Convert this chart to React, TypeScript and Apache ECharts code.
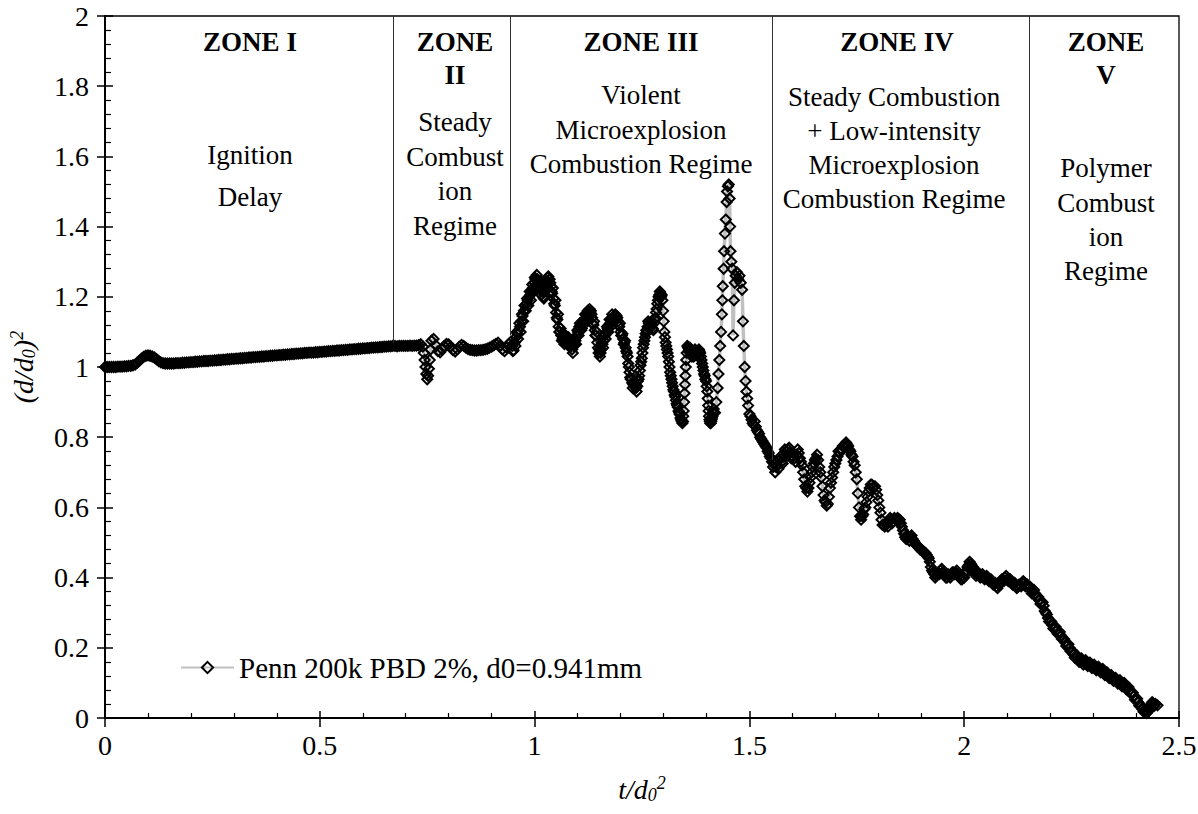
import React, { useEffect, useRef } from "react";
import * as echarts from "echarts";

const SERIF = "'Liberation Serif', 'Times New Roman', serif";
const LEGEND_NAME = "Penn 200k PBD 2%, d0=0.941mm";

// Zone I: ignition delay
const zone1Points: [number, number][] = [
  [0.0, 1.0], [0.005, 1.0], [0.01, 1.0], [0.015, 1.0], [0.02, 1.0], [0.025, 1.0], [0.03, 1.001], [0.035, 1.001],
  [0.04, 1.001], [0.045, 1.002], [0.05, 1.002], [0.055, 1.003], [0.06, 1.003], [0.065, 1.005], [0.07, 1.007],
  [0.075, 1.012], [0.08, 1.018], [0.085, 1.024], [0.09, 1.029], [0.095, 1.032], [0.1, 1.033], [0.105, 1.032],
  [0.11, 1.03], [0.115, 1.027], [0.12, 1.022], [0.125, 1.017], [0.13, 1.013], [0.135, 1.011], [0.14, 1.01],
  [0.145, 1.01], [0.15, 1.01], [0.155, 1.01], [0.16, 1.01], [0.165, 1.011], [0.17, 1.011], [0.175, 1.011],
  [0.18, 1.012], [0.185, 1.012], [0.19, 1.013], [0.195, 1.013], [0.2, 1.014], [0.205, 1.014], [0.21, 1.015],
  [0.215, 1.015], [0.22, 1.016], [0.225, 1.016], [0.23, 1.017], [0.235, 1.017], [0.24, 1.017], [0.245, 1.018],
  [0.25, 1.018], [0.255, 1.019], [0.26, 1.019], [0.265, 1.02], [0.27, 1.02], [0.275, 1.021], [0.28, 1.021],
  [0.285, 1.022], [0.29, 1.022], [0.295, 1.023], [0.3, 1.023], [0.305, 1.024], [0.31, 1.024], [0.315, 1.025],
  [0.32, 1.025], [0.325, 1.026], [0.33, 1.026], [0.335, 1.027], [0.34, 1.027], [0.345, 1.028], [0.35, 1.028],
  [0.355, 1.029], [0.36, 1.029], [0.365, 1.03], [0.37, 1.03], [0.375, 1.031], [0.38, 1.031], [0.385, 1.032],
  [0.39, 1.032], [0.395, 1.033], [0.4, 1.033], [0.405, 1.034], [0.41, 1.034], [0.415, 1.035], [0.42, 1.035],
  [0.425, 1.036], [0.43, 1.036], [0.435, 1.037], [0.44, 1.037], [0.445, 1.038], [0.45, 1.038], [0.455, 1.039],
  [0.46, 1.039], [0.465, 1.04], [0.47, 1.04], [0.475, 1.041], [0.48, 1.041], [0.485, 1.041], [0.49, 1.042],
  [0.495, 1.042], [0.5, 1.043], [0.505, 1.043], [0.51, 1.044], [0.515, 1.044], [0.52, 1.045], [0.525, 1.045],
  [0.53, 1.046], [0.535, 1.046], [0.54, 1.047], [0.545, 1.047], [0.55, 1.048], [0.555, 1.048], [0.56, 1.049],
  [0.565, 1.049], [0.57, 1.05], [0.575, 1.05], [0.58, 1.051], [0.585, 1.051], [0.59, 1.052], [0.595, 1.052],
  [0.6, 1.053], [0.605, 1.053], [0.61, 1.054], [0.615, 1.054], [0.62, 1.055], [0.625, 1.055], [0.63, 1.056],
  [0.635, 1.056], [0.64, 1.057], [0.645, 1.057], [0.65, 1.058], [0.655, 1.058], [0.66, 1.059], [0.665, 1.059],
  [0.67, 1.06],
];

// Zone II: steady combustion
const zone2Points: [number, number][] = [
  [0.675, 1.06], [0.68, 1.059], [0.685, 1.06], [0.69, 1.06], [0.695, 1.06], [0.7, 1.06], [0.705, 1.06],
  [0.71, 1.061], [0.715, 1.06], [0.72, 1.061], [0.725, 1.061], [0.73, 1.062], [0.735, 1.065], [0.74, 1.058],
  [0.742, 1.04], [0.744, 1.02], [0.746, 1.0], [0.748, 0.98], [0.75, 0.965], [0.752, 0.975], [0.754, 0.995],
  [0.756, 1.02], [0.758, 1.05], [0.76, 1.075], [0.765, 1.08], [0.77, 1.062], [0.775, 1.045], [0.78, 1.042],
  [0.785, 1.05], [0.79, 1.06], [0.795, 1.066], [0.8, 1.064], [0.805, 1.058], [0.81, 1.048], [0.815, 1.044],
  [0.82, 1.05], [0.825, 1.058], [0.83, 1.063], [0.835, 1.06], [0.84, 1.055], [0.845, 1.051], [0.85, 1.049],
  [0.855, 1.048], [0.86, 1.047], [0.865, 1.047], [0.87, 1.048], [0.875, 1.048], [0.88, 1.049], [0.885, 1.05],
  [0.89, 1.052], [0.895, 1.055], [0.9, 1.058], [0.905, 1.062], [0.91, 1.066], [0.915, 1.069], [0.92, 1.06],
  [0.925, 1.05], [0.93, 1.045], [0.935, 1.055], [0.94, 1.066], [0.945, 1.072],
];

// Zone III: violent microexplosion
const zone3Points: [number, number][] = [
  [0.948, 1.06], [0.951, 1.048], [0.954, 1.07], [0.957, 1.085], [0.96, 1.095], [0.963, 1.105], [0.966, 1.115],
  [0.969, 1.13], [0.972, 1.145], [0.975, 1.16], [0.978, 1.175], [0.981, 1.18], [0.984, 1.19], [0.987, 1.2],
  [0.99, 1.205], [0.993, 1.215], [0.996, 1.225], [0.999, 1.24], [1.002, 1.25], [1.005, 1.262], [1.008, 1.245],
  [1.011, 1.235], [1.014, 1.225], [1.017, 1.215], [1.02, 1.2], [1.023, 1.215], [1.026, 1.23], [1.029, 1.245],
  [1.032, 1.258], [1.035, 1.25], [1.038, 1.23], [1.041, 1.21], [1.044, 1.195], [1.047, 1.175], [1.05, 1.155],
  [1.053, 1.135], [1.056, 1.115], [1.059, 1.1], [1.062, 1.09], [1.065, 1.08], [1.068, 1.085], [1.071, 1.075],
  [1.074, 1.08], [1.077, 1.07], [1.08, 1.075], [1.083, 1.065], [1.086, 1.06], [1.089, 1.04], [1.092, 1.065],
  [1.095, 1.075], [1.098, 1.09], [1.101, 1.1], [1.104, 1.115], [1.107, 1.12], [1.11, 1.11], [1.113, 1.125],
  [1.116, 1.135], [1.119, 1.14], [1.122, 1.15], [1.125, 1.155], [1.128, 1.165], [1.131, 1.16], [1.134, 1.14],
  [1.137, 1.12], [1.14, 1.105], [1.143, 1.09], [1.146, 1.07], [1.149, 1.04], [1.152, 1.03], [1.155, 1.05],
  [1.158, 1.065], [1.161, 1.075], [1.164, 1.09], [1.167, 1.1], [1.17, 1.11], [1.173, 1.12], [1.176, 1.125],
  [1.179, 1.135], [1.182, 1.14], [1.185, 1.145], [1.188, 1.15], [1.191, 1.145], [1.194, 1.13], [1.197, 1.115],
  [1.2, 1.1], [1.203, 1.09], [1.206, 1.08], [1.209, 1.07], [1.212, 1.055], [1.215, 1.04], [1.218, 1.01],
  [1.221, 0.985], [1.224, 0.965], [1.227, 0.955], [1.23, 0.95], [1.233, 0.945], [1.236, 0.94], [1.239, 0.945],
  [1.242, 0.965], [1.245, 0.99], [1.248, 1.015], [1.251, 1.04], [1.254, 1.065], [1.257, 1.085], [1.26, 1.105],
  [1.263, 1.115], [1.266, 1.125], [1.269, 1.12], [1.272, 1.13], [1.275, 1.11], [1.278, 1.125], [1.281, 1.14],
  [1.284, 1.165], [1.287, 1.19], [1.29, 1.205], [1.293, 1.21], [1.296, 1.205], [1.299, 1.16], [1.302, 1.1],
  [1.305, 1.07], [1.308, 1.05], [1.311, 1.03], [1.314, 1.0], [1.317, 0.975], [1.32, 0.955], [1.323, 0.935],
  [1.326, 0.92], [1.329, 0.905], [1.332, 0.89], [1.335, 0.875], [1.338, 0.865], [1.341, 0.85], [1.344, 0.84],
  [1.346, 0.86], [1.348, 0.9], [1.35, 0.95], [1.352, 1.0], [1.354, 1.04], [1.357, 1.055], [1.36, 1.05],
  [1.363, 1.04], [1.366, 1.03], [1.369, 1.045], [1.372, 1.04], [1.375, 1.035], [1.378, 1.045], [1.381, 1.04],
  [1.384, 1.045], [1.387, 1.03], [1.39, 1.01], [1.393, 0.99], [1.396, 0.975], [1.399, 0.96], [1.402, 0.93],
  [1.404, 0.89], [1.406, 0.86], [1.408, 0.845], [1.41, 0.84], [1.412, 0.85], [1.414, 0.86], [1.417, 0.88],
  [1.42, 0.87], [1.423, 0.9], [1.426, 0.94], [1.428, 0.98], [1.43, 1.02], [1.432, 1.06], [1.434, 1.1],
  [1.436, 1.15], [1.437, 1.19], [1.438, 1.23], [1.44, 1.28], [1.441, 1.33], [1.443, 1.38], [1.445, 1.42],
  [1.447, 1.47], [1.448, 1.5], [1.45, 1.515], [1.452, 1.52], [1.454, 1.48], [1.455, 1.4], [1.456, 1.33],
  [1.458, 1.3], [1.46, 1.28], [1.462, 1.09], [1.464, 1.19], [1.466, 1.24], [1.468, 1.26], [1.471, 1.27],
  [1.474, 1.25], [1.477, 1.26], [1.48, 1.24], [1.483, 1.22], [1.485, 1.13], [1.487, 1.06], [1.489, 1.0],
  [1.491, 0.96], [1.493, 0.93], [1.495, 0.91], [1.497, 0.89], [1.5, 0.866], [1.505, 0.85], [1.51, 0.835],
  [1.515, 0.83], [1.52, 0.815], [1.525, 0.8], [1.53, 0.79], [1.535, 0.78], [1.54, 0.77], [1.545, 0.755],
  [1.55, 0.74],
];

// Zone III: scattered frames between the main trace
const zone3Scatter: [number, number][] = [
  [0.9495, 1.045], [0.9525, 1.07], [0.9555, 1.06], [0.9585, 1.1], [0.9615, 1.08], [0.9645, 1.125], [0.9675, 1.1],
  [0.9705, 1.15], [0.9735, 1.13], [0.9765, 1.175], [0.9795, 1.16], [0.9825, 1.195], [0.9855, 1.175], [0.9885, 1.215],
  [0.9915, 1.19], [0.9945, 1.235], [0.9975, 1.215], [1.0005, 1.255], [1.0035, 1.235], [1.0065, 1.25], [1.0095, 1.225],
  [1.0125, 1.245], [1.0155, 1.205], [1.0185, 1.225], [1.0215, 1.195], [1.0245, 1.24], [1.0275, 1.22], [1.0305, 1.255],
  [1.0335, 1.24], [1.0365, 1.24], [1.0395, 1.215], [1.0425, 1.225], [1.0455, 1.18], [1.0485, 1.19], [1.0515, 1.14],
  [1.0545, 1.15], [1.0575, 1.1], [1.0605, 1.11], [1.0635, 1.075], [1.0665, 1.095], [1.0695, 1.065], [1.0725, 1.09],
  [1.0755, 1.065], [1.0785, 1.085], [1.0815, 1.06], [1.0845, 1.075], [1.0875, 1.05], [1.0905, 1.06], [1.0935, 1.08],
  [1.0965, 1.065], [1.0995, 1.105], [1.1025, 1.09], [1.1055, 1.125], [1.1085, 1.105], [1.1115, 1.13], [1.1145, 1.12],
  [1.1175, 1.15], [1.1205, 1.135], [1.1235, 1.16], [1.1265, 1.145], [1.1295, 1.155], [1.1325, 1.15], [1.1355, 1.125],
  [1.1385, 1.13], [1.1415, 1.09], [1.1445, 1.1], [1.1475, 1.055], [1.1505, 1.05], [1.1535, 1.04], [1.1565, 1.07],
  [1.1595, 1.055], [1.1625, 1.095], [1.1655, 1.08], [1.1685, 1.115], [1.1715, 1.1], [1.1745, 1.135], [1.1775, 1.115],
  [1.1805, 1.15], [1.1835, 1.13], [1.1865, 1.14], [1.1895, 1.135], [1.1925, 1.14], [1.1955, 1.12], [1.1985, 1.125],
  [1.2015, 1.09], [1.2045, 1.095], [1.2075, 1.065], [1.2105, 1.075], [1.2135, 1.045], [1.2165, 1.03], [1.2195, 1.0],
  [1.2225, 0.97], [1.2255, 0.965], [1.2285, 0.94], [1.2315, 0.955], [1.2345, 0.95], [1.2375, 0.93], [1.2405, 0.96],
  [1.2435, 0.975], [1.2465, 1.005], [1.2495, 1.025], [1.2525, 1.055], [1.2555, 1.075], [1.2585, 1.095], [1.2615, 1.1],
  [1.2645, 1.13], [1.2675, 1.11], [1.2705, 1.12], [1.2735, 1.12], [1.2765, 1.105], [1.2795, 1.135], [1.2825, 1.155],
  [1.2855, 1.18], [1.2885, 1.2], [1.2915, 1.215], [1.2945, 1.2], [1.2975, 1.19], [1.3005, 1.13], [1.3035, 1.085],
  [1.3065, 1.06], [1.3095, 1.04], [1.3125, 1.015], [1.3155, 0.985], [1.3185, 0.965], [1.3215, 0.945], [1.3245, 0.93],
  [1.3275, 0.915], [1.3305, 0.895], [1.3335, 0.885], [1.3365, 0.87], [1.3395, 0.855], [1.3425, 0.845], [1.3455, 0.845],
  [1.347, 0.875], [1.349, 0.925], [1.351, 0.975], [1.353, 1.02], [1.3555, 1.06], [1.3585, 1.045], [1.3615, 1.055],
  [1.3645, 1.035], [1.3675, 1.04], [1.3705, 1.03], [1.3735, 1.05], [1.3765, 1.04], [1.3795, 1.035], [1.3825, 1.05],
  [1.3855, 1.04], [1.3885, 1.02], [1.3915, 1.0], [1.3945, 0.98], [1.3975, 0.965], [1.4005, 0.945], [1.403, 0.91],
  [1.405, 0.875], [1.407, 0.85], [1.409, 0.84], [1.411, 0.845], [1.413, 0.855], [1.4155, 0.87],
  [1.5025, 0.86], [1.5075, 0.84], [1.5125, 0.845], [1.5175, 0.82], [1.5225, 0.81], [1.5275, 0.795], [1.5325, 0.785],
  [1.5375, 0.775], [1.5425, 0.76], [1.5475, 0.745], [1.5525, 0.73],
];

// Zone IV: steady combustion + low-intensity microexplosion
const zone4Points: [number, number][] = [
  [1.555, 0.715], [1.56, 0.7], [1.565, 0.72], [1.57, 0.735], [1.575, 0.73], [1.58, 0.745], [1.585, 0.76],
  [1.59, 0.765], [1.595, 0.755], [1.6, 0.745], [1.605, 0.74], [1.61, 0.75], [1.615, 0.755], [1.62, 0.73],
  [1.625, 0.7], [1.63, 0.66], [1.635, 0.645], [1.64, 0.67], [1.645, 0.7], [1.65, 0.725], [1.655, 0.74],
  [1.66, 0.735], [1.665, 0.7], [1.67, 0.66], [1.675, 0.62], [1.68, 0.605], [1.685, 0.63], [1.69, 0.67],
  [1.695, 0.7], [1.7, 0.725], [1.705, 0.745], [1.71, 0.755], [1.715, 0.765], [1.72, 0.775], [1.725, 0.785],
  [1.73, 0.775], [1.735, 0.76], [1.74, 0.745], [1.745, 0.72], [1.75, 0.68], [1.755, 0.6], [1.76, 0.565],
  [1.765, 0.58], [1.77, 0.6], [1.775, 0.63], [1.78, 0.655], [1.785, 0.665], [1.79, 0.66], [1.795, 0.65],
  [1.8, 0.62], [1.805, 0.585], [1.81, 0.55], [1.815, 0.545], [1.82, 0.555], [1.825, 0.56], [1.83, 0.565],
  [1.835, 0.56], [1.84, 0.565], [1.845, 0.57], [1.85, 0.565], [1.855, 0.545], [1.86, 0.525], [1.865, 0.51],
  [1.87, 0.515], [1.875, 0.515], [1.88, 0.51], [1.885, 0.5], [1.89, 0.49], [1.895, 0.485], [1.9, 0.48],
  [1.905, 0.475], [1.91, 0.47], [1.915, 0.46], [1.92, 0.445], [1.925, 0.42], [1.93, 0.41], [1.935, 0.405],
  [1.94, 0.415], [1.945, 0.42], [1.95, 0.415], [1.955, 0.405], [1.96, 0.4], [1.965, 0.405], [1.97, 0.41],
  [1.975, 0.415], [1.98, 0.415], [1.985, 0.41], [1.99, 0.4], [1.995, 0.395], [2.0, 0.4], [2.005, 0.42],
  [2.01, 0.435], [2.015, 0.44], [2.02, 0.43], [2.025, 0.415], [2.03, 0.41], [2.035, 0.41], [2.04, 0.405],
  [2.045, 0.4], [2.05, 0.4], [2.055, 0.395], [2.06, 0.39], [2.065, 0.385], [2.07, 0.38], [2.075, 0.375],
  [2.08, 0.38], [2.085, 0.39], [2.09, 0.395], [2.095, 0.4], [2.1, 0.395], [2.105, 0.39], [2.11, 0.385],
  [2.115, 0.38], [2.12, 0.375], [2.125, 0.375], [2.13, 0.38], [2.135, 0.385], [2.14, 0.385], [2.145, 0.38],
  [2.15, 0.37],
];

const zone4Scatter: [number, number][] = [
  [1.5575, 0.725], [1.5625, 0.715], [1.5675, 0.71], [1.5725, 0.745], [1.5775, 0.725], [1.5825, 0.765], [1.5875, 0.75],
  [1.5925, 0.77], [1.5975, 0.74], [1.6025, 0.755], [1.6075, 0.73], [1.6125, 0.765], [1.6175, 0.74], [1.6225, 0.72],
  [1.6275, 0.68], [1.6325, 0.655], [1.6375, 0.655], [1.6425, 0.685], [1.6475, 0.715], [1.6525, 0.735], [1.6575, 0.75],
  [1.6625, 0.715], [1.6675, 0.685], [1.6725, 0.635], [1.6775, 0.615], [1.6825, 0.61], [1.6875, 0.655], [1.6925, 0.685],
  [1.6975, 0.715], [1.7025, 0.735], [1.7075, 0.76], [1.7125, 0.765], [1.7175, 0.775], [1.7225, 0.78], [1.7275, 0.78],
  [1.7325, 0.765], [1.7375, 0.75], [1.7425, 0.73], [1.7475, 0.7], [1.7525, 0.64], [1.7575, 0.575], [1.7625, 0.575],
  [1.7675, 0.595], [1.7725, 0.615], [1.7775, 0.645], [1.7825, 0.665], [1.7875, 0.655], [1.7925, 0.66], [1.7975, 0.635],
  [1.8025, 0.6], [1.8075, 0.565], [1.8125, 0.55], [1.8175, 0.555], [1.8225, 0.545], [1.8275, 0.57], [1.8325, 0.555],
  [1.8375, 0.57], [1.8425, 0.565], [1.8475, 0.56], [1.8525, 0.555], [1.8575, 0.535], [1.8625, 0.515], [1.8675, 0.52],
  [1.8725, 0.505], [1.8775, 0.52], [1.8825, 0.505], [1.8875, 0.495], [1.8925, 0.49], [1.8975, 0.48], [1.9025, 0.475],
  [1.9075, 0.47], [1.9125, 0.465], [1.9175, 0.455], [1.9225, 0.43], [1.9275, 0.415], [1.9325, 0.4], [1.9375, 0.41],
  [1.9425, 0.41], [1.9475, 0.425], [1.9525, 0.41], [1.9575, 0.4], [1.9625, 0.41], [1.9675, 0.4], [1.9725, 0.415],
  [1.9775, 0.41], [1.9825, 0.42], [1.9875, 0.405], [1.9925, 0.395], [1.9975, 0.4], [2.0025, 0.41], [2.0075, 0.43],
  [2.0125, 0.445], [2.0175, 0.435], [2.0225, 0.42], [2.0275, 0.405], [2.0325, 0.415], [2.0375, 0.4], [2.0425, 0.41],
  [2.0475, 0.395], [2.0525, 0.405], [2.0575, 0.39], [2.0625, 0.395], [2.0675, 0.38], [2.0725, 0.385], [2.0775, 0.37],
  [2.0825, 0.385], [2.0875, 0.395], [2.0925, 0.39], [2.0975, 0.405], [2.1025, 0.39], [2.1075, 0.395], [2.1125, 0.38],
  [2.1175, 0.385], [2.1225, 0.37], [2.1275, 0.38], [2.1325, 0.375], [2.1375, 0.39], [2.1425, 0.375], [2.1475, 0.38],
];

// Zone V: polymer combustion
const zone5Points: [number, number][] = [
  [2.155, 0.365], [2.16, 0.36], [2.165, 0.355], [2.17, 0.345], [2.175, 0.335], [2.18, 0.33], [2.185, 0.32],
  [2.19, 0.3], [2.195, 0.285], [2.2, 0.275], [2.205, 0.265], [2.21, 0.255], [2.215, 0.25], [2.22, 0.24],
  [2.225, 0.235], [2.23, 0.225], [2.235, 0.215], [2.24, 0.21], [2.245, 0.2], [2.25, 0.19], [2.255, 0.18],
  [2.26, 0.172], [2.265, 0.168], [2.27, 0.165], [2.275, 0.162], [2.28, 0.159], [2.285, 0.156], [2.29, 0.153],
  [2.295, 0.15], [2.3, 0.147], [2.305, 0.144], [2.31, 0.141], [2.315, 0.138], [2.32, 0.135], [2.325, 0.131],
  [2.33, 0.127], [2.335, 0.123], [2.34, 0.119], [2.345, 0.115], [2.35, 0.111], [2.355, 0.108], [2.36, 0.104],
  [2.365, 0.1], [2.37, 0.096], [2.375, 0.091], [2.38, 0.087], [2.385, 0.08], [2.39, 0.072], [2.395, 0.063],
  [2.4, 0.054], [2.405, 0.045], [2.41, 0.035], [2.415, 0.025], [2.42, 0.018], [2.425, 0.014], [2.43, 0.025],
  [2.435, 0.038], [2.44, 0.042], [2.445, 0.04], [2.45, 0.036],
];

const zone5Scatter: [number, number][] = [
  [2.1525, 0.375], [2.1575, 0.355], [2.1625, 0.365], [2.1675, 0.345], [2.1725, 0.345], [2.1775, 0.325], [2.1825, 0.33],
  [2.1875, 0.305], [2.1925, 0.295], [2.1975, 0.275], [2.2025, 0.275], [2.2075, 0.255], [2.2125, 0.26], [2.2175, 0.24],
  [2.2225, 0.245], [2.2275, 0.225], [2.2325, 0.225], [2.2375, 0.205], [2.2425, 0.21], [2.2475, 0.19], [2.2525, 0.19],
  [2.2575, 0.172], [2.2625, 0.178], [2.2675, 0.16], [2.2725, 0.17], [2.2775, 0.152], [2.2825, 0.165], [2.2875, 0.148],
  [2.2925, 0.158], [2.2975, 0.142], [2.3025, 0.152], [2.3075, 0.136], [2.3125, 0.146], [2.3175, 0.13], [2.3225, 0.14],
  [2.3275, 0.122], [2.3325, 0.13], [2.3375, 0.114], [2.3425, 0.122], [2.3475, 0.106], [2.3525, 0.114], [2.3575, 0.098],
  [2.3625, 0.108], [2.3675, 0.09], [2.3725, 0.1], [2.3775, 0.082], [2.3825, 0.088], [2.3875, 0.07], [2.3925, 0.072],
  [2.3975, 0.052], [2.4025, 0.055], [2.4075, 0.035], [2.4125, 0.035], [2.4175, 0.018], [2.4225, 0.022], [2.4275, 0.018],
  [2.4325, 0.035], [2.4375, 0.045], [2.4425, 0.035],
];

// Zone boundaries: t position and the curve value where the divider line stops
const zoneBoundT = [0.67, 0.943, 1.553, 2.151];
const zoneBoundEnd = [1.068, 1.09, 0.735, 0.39];

// Zone annotation text lines: [text, centreX px, centreY px, bold]
const zoneTexts: [string, number, number, boolean][] = [
  ["ZONE I", 250, 42, true],
  ["Ignition", 250, 155, false],
  ["Delay", 250, 197, false],
  ["ZONE", 455, 42, true],
  ["II", 455, 75, true],
  ["Steady", 455, 122, false],
  ["Combust", 455, 157, false],
  ["ion", 455, 191, false],
  ["Regime", 455, 226, false],
  ["ZONE III", 641, 42, true],
  ["Violent", 641, 95, false],
  ["Microexplosion", 641, 130, false],
  ["Combustion Regime", 641, 164, false],
  ["ZONE IV", 897, 42, true],
  ["Steady Combustion", 894, 97, false],
  ["+ Low-intensity", 894, 131, false],
  ["Microexplosion", 894, 165, false],
  ["Combustion Regime", 894, 199, false],
  ["ZONE", 1106, 42, true],
  ["V", 1106, 75, true],
  ["Polymer", 1106, 168, false],
  ["Combust", 1106, 203, false],
  ["ion", 1106, 237, false],
  ["Regime", 1106, 271, false],
];

export default function App() {
  const ref = useRef<HTMLDivElement>(null);

  useEffect(() => {
    if (!ref.current) return;
    const chart = echarts.init(ref.current, undefined, { renderer: "svg" });
    const allPoints = [
      ...zone1Points,
      ...zone2Points,
      ...[...zone3Points, ...zone3Scatter].sort((a, b) => a[0] - b[0]),
      ...[...zone4Points, ...zone4Scatter].sort((a, b) => a[0] - b[0]),
      ...[...zone5Points, ...zone5Scatter].sort((a, b) => a[0] - b[0]),
    ];

    const rich = {
      i: { fontFamily: SERIF, fontStyle: "italic", fontSize: 28, color: "#000", lineHeight: 30 },
      s: { fontFamily: SERIF, fontStyle: "italic", fontSize: 18, color: "#000", lineHeight: 14, verticalAlign: "bottom" },
      p: { fontFamily: SERIF, fontStyle: "italic", fontSize: 18, color: "#000", lineHeight: 14, verticalAlign: "top" },
    };

    const tickLine = { color: "#000", width: 1.5 };
    const minorLine = { color: "#000", width: 1.2 };
    const labelStyle = { fontFamily: SERIF, fontSize: 28, color: "#000", lineHeight: 22 };

    const option: any = {
      animation: false,
      grid: {
        left: 105, right: 19, top: 16, bottom: 96,
        containLabel: false,
        outerBoundsMode: "none",
        show: true, borderColor: "#000", borderWidth: 1.3, backgroundColor: "transparent",
      },
      legend: {
        data: [LEGEND_NAME],
        left: 180, top: 653, padding: 0, itemWidth: 53, itemHeight: 14,
        textStyle: { fontFamily: SERIF, fontSize: 29, color: "#000" },
      },
      xAxis: [
        {
          type: "value", min: 0, max: 2.5, interval: 0.5, position: "bottom",
          axisLine: { show: true, onZero: false, lineStyle: { color: "#000", width: 2 } },
          axisTick: { show: true, inside: true, length: 7, lineStyle: tickLine },
          minorTick: { show: true, splitNumber: 5, length: 5, lineStyle: minorLine },
          splitLine: { show: false },
          axisLabel: { ...labelStyle, margin: 16 },
          name: "{i|t/d}{s|0}{p|2}",
          nameLocation: "middle", nameGap: 56,
          nameTextStyle: { rich },
        },
        {
          type: "value", min: 0, max: 2.5, interval: 0.5, position: "bottom",
          axisLine: { show: false },
          axisTick: { show: true, inside: false, length: 9, lineStyle: tickLine },
          axisLabel: { show: false },
          splitLine: { show: false },
        },
      ],
      yAxis: [
        {
          type: "value", min: 0, max: 2, interval: 0.2, position: "left",
          axisLine: { show: true, onZero: false, lineStyle: { color: "#000", width: 2 } },
          axisTick: { show: true, inside: true, length: 8, lineStyle: tickLine },
          minorTick: { show: true, splitNumber: 5, length: 6, lineStyle: minorLine },
          splitLine: { show: false },
          axisLabel: { ...labelStyle, margin: 16 },
          name: "{i|(d/d}{s|0}{i|)}{p|2}",
          nameLocation: "middle", nameGap: 67,
          nameTextStyle: { rich },
        },
        {
          type: "value", min: 0, max: 2, interval: 0.2, position: "left",
          axisLine: { show: false },
          axisTick: { show: true, inside: false, length: 8, lineStyle: tickLine },
          axisLabel: { show: false },
          splitLine: { show: false },
        },
      ],
      series: [
        {
          name: LEGEND_NAME,
          type: "line",
          xAxisIndex: 0,
          yAxisIndex: 0,
          data: allPoints,
          symbol: "diamond",
          symbolSize: 10,
          showSymbol: true,
          showAllSymbol: true,
          lineStyle: { color: "#c0c0c0", width: 3.5 },
          itemStyle: { color: "rgba(255,255,255,0)", borderColor: "#000", borderWidth: 2 },
          emphasis: { disabled: true },
          markLine: {
            silent: true,
            symbol: ["none", "none"],
            label: { show: false },
            lineStyle: { color: "#333", width: 1, type: "solid" },
            emphasis: { disabled: true },
            data: zoneBoundT.map((t, k) => [{ coord: [t, 2] }, { coord: [t, zoneBoundEnd[k]] }]),
          },
        },
      ],
      graphic: zoneTexts.map(([text, x, y, bold]) => ({
        type: "text",
        x, y,
        silent: true,
        style: {
          text,
          fontFamily: SERIF,
          fontSize: 27,
          fontWeight: bold ? "bold" : "normal",
          fill: "#000",
          align: "center",
          verticalAlign: "middle",
          textAlign: "center",
          textVerticalAlign: "middle",
        },
      })),
    };

    chart.setOption(option);
    return () => chart.dispose();
  }, []);

  return (
    <div
      ref={ref}
      style={{ position: "fixed", left: 0, top: 0, width: 1198, height: 814, background: "#fff" }}
    />
  );
}
